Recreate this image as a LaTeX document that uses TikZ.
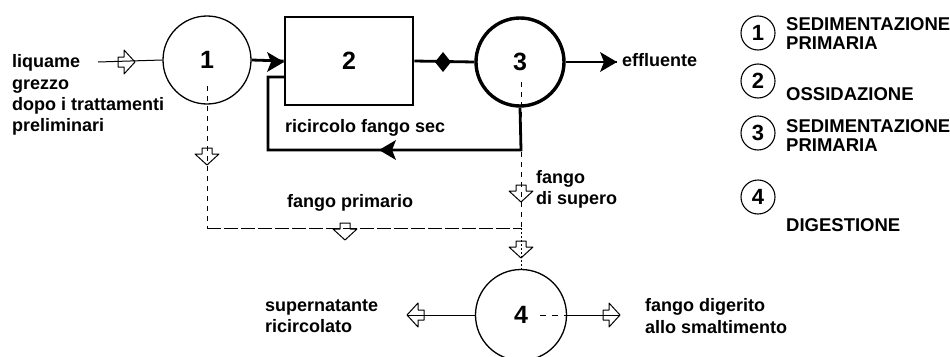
\documentclass[tikz,border=0pt]{standalone}
\usepackage{fontspec}
\setmainfont{Liberation Sans}
\begin{document}
\begin{tikzpicture}[x=1pt,y=-1pt,
  every node/.style={font=\bfseries\fontsize{18}{21.3}\selectfont, inner sep=0pt},
  lbl/.style={anchor=west, align=left},
  big/.style={font=\bfseries\fontsize{25}{25}\selectfont},
  thickflow/.style={line width=2.8pt},
  thinflow/.style={line width=1pt},
  dashflow/.style={line width=0.8pt, dash pattern=on 5pt off 5pt},
  legc/.style={circle, draw, line width=1.1pt, minimum size=34, font=\bfseries\fontsize{22}{22}\selectfont},
  legt/.style={anchor=west, align=left, font=\bfseries\fontsize{18.5}{19}\selectfont},
  openarr/.pic={\draw[line width=1pt, line join=round] (-8,-5) -- (-2,-5) -- (-2,-12) -- (9,0) -- (-2,12) -- (-2,5) -- (-8,5) -- cycle;},
  kite/.pic={\fill (-9,-10) -- (8,0) -- (-9,10) -- (-5,0) -- cycle;},
  diam/.pic={\fill (-8,0) -- (0,-10) -- (8,0) -- (0,10) -- cycle;}
]
\useasboundingbox (0,0) rectangle (950,356);

% main units
\node[circle, draw, line width=1.3pt, minimum size=88, big] (c1) at (207,60) {1};
\node[rectangle, draw, line width=2.6pt, minimum width=128, minimum height=88, big] (b2) at (349,61) {2};
\node[circle, draw, line width=3.4pt, minimum size=88, big] (c3) at (520,62) {3};
\node[circle, draw, line width=1.3pt, minimum size=91, big] (c4) at (521,315) {4};

% input
\coordinate (inL) at (98,62);
\draw[thinflow] (inL) -- (c1.west);
\pic at (126,62) {openarr};
\node[lbl] (tin) at (12,95) {liquame\\grezzo\\dopo i trattamenti\\preliminari};

% 1 -> 2 -> 3 -> effluent
\draw[thickflow] (c1.east) -- (b2.west);
\pic at (276,62) {kite};
\draw[thickflow] (b2.east) -- (c3.west);
\pic at (443,62) {diam};
\coordinate (eff) at (617,62);
\draw[thickflow] (c3.east) -- (eff);
\pic at (609,62) {kite};
\node[lbl] (teff) at (622,60) {effluente};

% recirculation
\coordinate (r0) at (521,150);
\coordinate (r1) at (268,150);
\coordinate (r2) at (268,77);
\coordinate (r3) at (284,77);
\draw[thickflow, line join=miter] (c3.south) -- (r0) -- (r1) -- (r2) -- (r3);
\pic[rotate=180] at (387,150) {kite};
\node[lbl] (trec) at (285,128) {ricircolo fango sec};

% primary sludge
\coordinate (d1) at (207,86);
\coordinate (j1) at (207,228);
\coordinate (j2) at (521,228);
\draw[dashflow] (d1) -- (j1);
\draw[line width=1pt, dash pattern=on 14pt off 3pt] (j1) -- (j2);
\pic[rotate=-90] at (207,156) {openarr};
\pic[rotate=-90] at (345,231) {openarr};
\node[lbl] (tprim) at (287,203) {fango primario};

% excess sludge
\coordinate (d3) at (521,82);
\draw[dashflow] (d3) -- (j2);
\pic[rotate=-90] at (521,193) {openarr};
\node[lbl] (tsup) at (536,189) {fango\\di supero};

% to digestion
\draw[line width=0.8pt, dash pattern=on 2pt off 2pt] (j2) -- (c4.north);
\pic[rotate=-90] at (521,249) {openarr};

% outputs of 4
\coordinate (sl) at (407,315);
\draw[thinflow] (c4.west) -- (sl);
\pic[rotate=180] at (416,315) {openarr};
\node[lbl] (tsn) at (265,316) {supernatante\\ricircolato};
\coordinate (s4) at (540,315);
\draw[line width=0.8pt, dash pattern=on 6pt off 6pt] (s4) -- (c4.east);
\coordinate (sr) at (620,315);
\draw[thinflow] (c4.east) -- (sr);
\pic at (611,315) {openarr};
\node[lbl] (tdig) at (645,316) {fango digerito\\allo smaltimento};

% legend
\node[legc] (l1) at (758,33) {1};
\node[legt] (lt1) at (786,34) {SEDIMENTAZIONE\\PRIMARIA};
\node[legc] (l2) at (758,81) {2};
\node[legt] (lt2) at (786,94) {OSSIDAZIONE};
\node[legc] (l3) at (758,133) {3};
\node[legt] (lt3) at (786,136) {SEDIMENTAZIONE\\PRIMARIA};
\node[legc] (l4) at (758,197) {4};
\node[legt] (lt4) at (786,225) {DIGESTIONE};
\end{tikzpicture}
\end{document}
